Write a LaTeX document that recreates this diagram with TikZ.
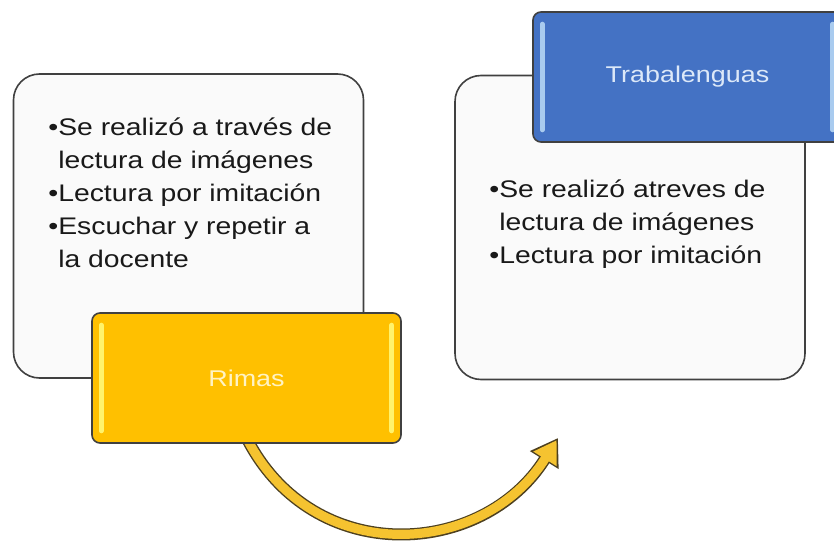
\documentclass[tikz,border=0pt]{standalone}
\usepackage{fontspec}
\setmainfont{Liberation Sans}
\newfontfamily\ancha[FakeStretch=1.18]{Liberation Sans}
\usetikzlibrary{arrows.meta,backgrounds}
\definecolor{fondo}{HTML}{FAFAFA}
\definecolor{borde}{HTML}{404040}
\definecolor{oro}{HTML}{FFC000}
\definecolor{oroclaro}{HTML}{FFF36B}
\definecolor{orotexto}{HTML}{FFF3C4}
\definecolor{azul}{HTML}{4472C4}
\definecolor{azulclaro}{HTML}{A9CBEF}
\definecolor{azultexto}{HTML}{DCE8F8}
\definecolor{flechaborde}{HTML}{4D4020}
\definecolor{flecha}{HTML}{F5C330}

\begin{document}
\begin{tikzpicture}[x=0.5pt,y=-0.5pt,
    caja/.style={draw=borde,line width=0.8pt,fill=fondo,rounded corners=13pt,
        minimum width=175pt,minimum height=152pt},
    titulo/.style={draw=borde,line width=0.8pt,rounded corners=4pt,
        minimum width=154.5pt,minimum height=65pt,font=\ancha\fontsize{11.4}{14}\selectfont},
    brillo/.style={line width=2.5pt,line cap=round},
    texto/.style={anchor=north west,inner sep=0pt,align=left,text=black!90,
        font=\ancha\fontsize{12}{16.5}\selectfont}]
    \useasboundingbox (0,0) rectangle (834,540);
    % cajas blancas
    \node[caja] (A) at (188.5,226) {};
    \node[caja] (B) at (630,227.5) {};
    \node[texto] (A1) at (48,111) {\rule{0pt}{12pt}\textbullet Se realizó a través de\\
        \phantom{\textbullet}lectura de imágenes\\
        \textbullet Lectura por imitación\\
        \textbullet Escuchar y repetir a\\
        \phantom{\textbullet}la docente};
    \node[texto] (B1) at (489,173) {\rule{0pt}{12pt}\textbullet Se realizó atreves de\\
        \phantom{\textbullet}lectura de imágenes\\
        \textbullet Lectura por imitación};
    % titulos
    \node[titulo,fill=oro,text=orotexto] (R) at (246.5,378) {Rimas};
    \draw[brillo,oroclaro] ([xshift=5pt,yshift=-6.5pt]R.north west) -- ([xshift=5pt,yshift=6.5pt]R.south west);
    \draw[brillo,oroclaro] ([xshift=-5pt,yshift=-6.5pt]R.north east) -- ([xshift=-5pt,yshift=6.5pt]R.south east);
    \node[titulo,fill=azul,text=azultexto] (T) at (687.5,77) {Trabalenguas};
    \draw[brillo,azulclaro] ([xshift=5pt,yshift=-6.5pt]T.north west) -- ([xshift=5pt,yshift=6.5pt]T.south west);
    \draw[brillo,azulclaro] ([xshift=-5pt,yshift=-6.5pt]T.north east) -- ([xshift=-5pt,yshift=6.5pt]T.south east);
    % flecha
    \coordinate (P) at (558,438);
    \begin{scope}[on background layer]
        \draw[line width=6pt,flechaborde,-{Triangle[length=13pt,width=16pt]}]
            ([yshift=3pt]R.south) .. controls +(63:147) and +(122:141) .. (P);
        \draw[line width=4.6pt,flecha,-{Triangle[length=11pt,width=13pt]},shorten >=1.3pt]
            ([yshift=3pt]R.south) .. controls +(63:147) and +(122:141) .. (P);
    \end{scope}
\end{tikzpicture}
\end{document}
